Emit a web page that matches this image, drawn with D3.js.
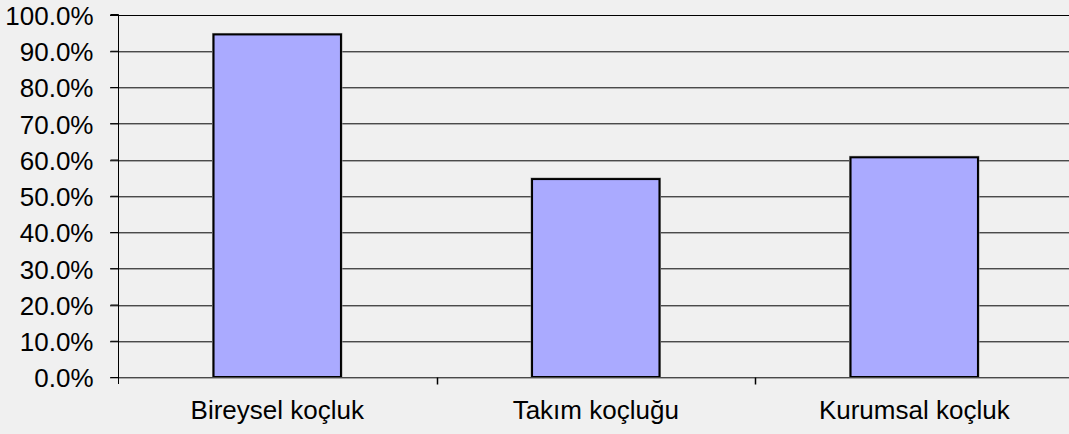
<!DOCTYPE html>
<html><head><meta charset="utf-8">
<script src="https://cdn.jsdelivr.net/npm/d3@7"></script>
<style>html,body{margin:0;padding:0;background:#f0f0f0;}svg{display:block;}</style>
</head><body>
<script>
const categories = ["Bireysel koçluk", "Takım koçluğu", "Kurumsal koçluk"];
const values = [0.945, 0.546, 0.606];
const yTicks = [0, 0.1, 0.2, 0.3, 0.4, 0.5, 0.6, 0.7, 0.8, 0.9, 1.0];

const W = 1069, H = 434;
const m = {left: 118, right: -4.5, top: 14.5, bottom: 57};
const svg = d3.select("body").append("svg").attr("width", W).attr("height", H);
svg.append("rect").attr("width", W).attr("height", H).attr("fill", "#f0f0f0");

const x = d3.scaleBand().domain(categories).range([m.left, W - m.right]).paddingInner(0).paddingOuter(0);
const y = d3.scaleLinear().domain([0, 1]).range([H - m.bottom, m.top]);
const font = "'Liberation Sans', Arial, sans-serif";

// gridlines
const g = svg.append("g");
yTicks.forEach(t => {
  if (t === 0) return;
  const yy = Math.round(y(t)) + 0.5;
  if (t < 1) g.append("line").attr("x1", 110).attr("x2", W).attr("y1", yy + 1).attr("y2", yy + 1).attr("stroke", "#a8a8a8").attr("stroke-width", 1);
  g.append("line").attr("x1", 110).attr("x2", W).attr("y1", yy).attr("y2", yy)
    .attr("stroke", t === 1 ? "#000" : "#4a4a4a").attr("stroke-width", t===1?1.2:1);
});

// bars
const bw = x.bandwidth() * 0.4;
svg.append("g").selectAll("rect.sh").data(categories).join("rect")
  .attr("x", d => x(d) + (x.bandwidth() - bw) / 2 - 1)
  .attr("y", (d, i) => y(values[i]) - 1)
  .attr("width", bw + 2)
  .attr("height", (d, i) => y(0) - y(values[i]) + 1)
  .attr("fill", "none").attr("stroke", "#999").attr("stroke-width", 1);
svg.append("g").selectAll("rect.bar").data(categories).join("rect")
  .attr("x", d => x(d) + (x.bandwidth() - bw) / 2)
  .attr("y", (d, i) => y(values[i]))
  .attr("width", bw)
  .attr("height", (d, i) => y(0) - y(values[i]))
  .attr("fill", "#aaaaff").attr("stroke", "#000").attr("stroke-width", 2);

// x baseline
const y0 = Math.round(y(0)) + 0.5;
svg.append("line").attr("x1", 110).attr("x2", W).attr("y1", y0 + 1).attr("y2", y0 + 1).attr("stroke", "#aaa");
svg.append("line").attr("x1", 110).attr("x2", W).attr("y1", y0).attr("y2", y0).attr("stroke", "#4a4a4a");

// y axis
const yAxis = d3.axisLeft(y).tickValues(yTicks).tickFormat(d3.format(".1%")).tickSize(8).tickPadding(17);
const ya = svg.append("g").attr("transform", `translate(${m.left + 0.5},0)`).call(yAxis);
ya.select(".domain").attr("stroke", "#000").attr("d", `M-8,${m.top}H0V${y(0) + 7}`);
ya.selectAll(".tick line").attr("stroke", "#000");
ya.selectAll("text").attr("font-family", font).attr("font-size", "26px").attr("fill", "#000").attr("dy", "0.38em");

// x axis
const xAxis = d3.axisBottom(x).tickSize(0).tickPadding(23);
const xa = svg.append("g").attr("transform", `translate(0,${y0})`).call(xAxis);
xa.select(".domain").remove();
xa.selectAll("text").attr("font-family", font).attr("font-size", "26px").attr("fill", "#000");
// category separator ticks
const seps = categories.slice(1).map(c => x(c));
svg.append("g").selectAll("line").data(seps).join("line")
  .attr("x1", d => Math.round(d) + 0.5).attr("x2", d => Math.round(d) + 0.5)
  .attr("y1", y0).attr("y2", y0 + 7).attr("stroke", "#000").attr("stroke-width", 1.5);
</script>
</body></html>
